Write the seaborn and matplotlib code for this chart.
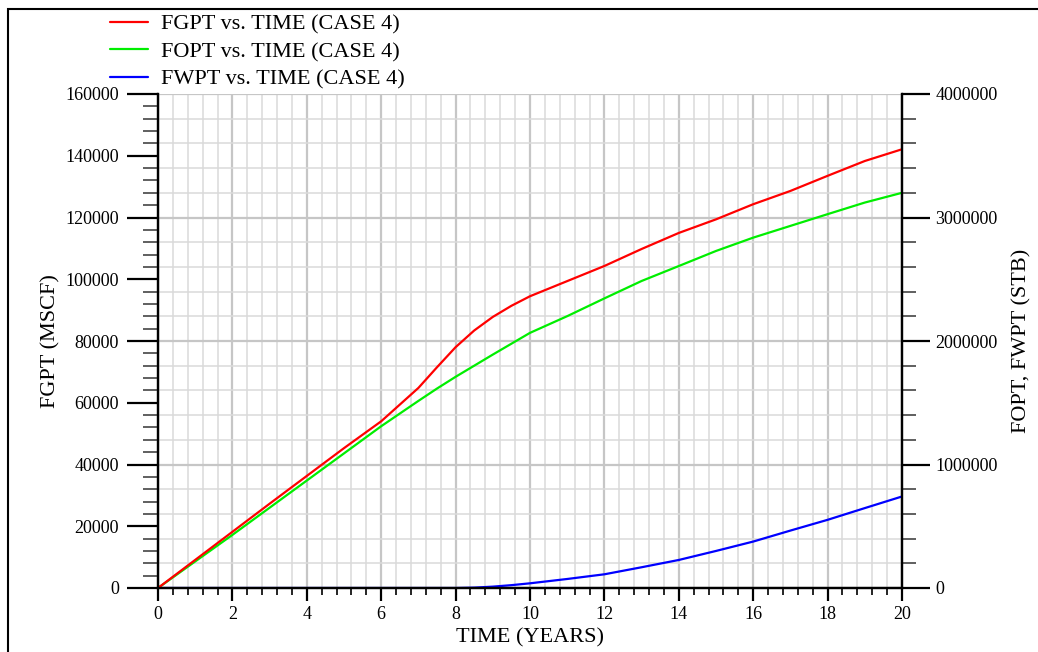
import matplotlib
matplotlib.use('Agg')
import matplotlib.pyplot as plt
import seaborn as sns
import pandas as pd
from matplotlib.ticker import MultipleLocator, StrMethodFormatter
from matplotlib.patches import Rectangle

# ---- data ----
time_years = [0, 1, 2, 3, 4, 5, 6, 7, 7.5, 8, 8.5, 9, 9.5, 10, 11, 12, 13, 14, 15, 16, 17, 18, 19, 20]
fgpt = [0, 9100, 18200, 27300, 36300, 45300, 54000, 64800, 71500, 78000, 83400, 87800, 91400, 94500,
        99400, 104300, 109800, 115000, 119400, 124300, 128600, 133500, 138300, 142100]
fopt = [0, 215000, 430000, 650000, 870000, 1090000, 1310000, 1515000, 1615000, 1710000, 1800000,
        1890000, 1978000, 2066000, 2201000, 2345000, 2486000, 2607000, 2729000, 2837000, 2932000,
        3027000, 3121000, 3200000]
fwpt = [0, 0, 0, 0, 0, 0, 0, 0, 0, 0, 3000, 11000, 23000, 38000, 73000, 111000, 168000, 227000,
        300000, 376000, 465000, 552000, 647000, 741000]
series_labels = ["FGPT vs. TIME (CASE 4)", "FOPT vs. TIME (CASE 4)", "FWPT vs. TIME (CASE 4)"]
left_ticks = [0, 20000, 40000, 60000, 80000, 100000, 120000, 140000, 160000]
right_ticks = [0, 1000000, 2000000, 3000000, 4000000]
x_ticks = [0, 2, 4, 6, 8, 10, 12, 14, 16, 18, 20]

df = pd.DataFrame({"TIME": time_years, "FGPT": fgpt, "FOPT": fopt, "FWPT": fwpt})

sns.set_theme(style="ticks")
plt.rcParams['font.family'] = ['Liberation Serif', 'DejaVu Serif']
plt.rcParams['text.color'] = 'black'
plt.rcParams['axes.labelcolor'] = 'black'
plt.rcParams['xtick.color'] = 'black'
plt.rcParams['ytick.color'] = 'black'

W, H = 1038, 652
fig = plt.figure(figsize=(W / 100, H / 100), dpi=100)
ax = fig.add_axes([158 / W, 1 - 588 / H, 744 / W, 494 / H])
ax2 = ax.twinx()

sns.lineplot(data=df, x="TIME", y="FGPT", ax=ax, color="#ff0000", lw=1.6,
             label=series_labels[0], legend=False)
sns.lineplot(data=df, x="TIME", y="FOPT", ax=ax2, color="#00ee00", lw=1.6,
             label=series_labels[1], legend=False)
sns.lineplot(data=df, x="TIME", y="FWPT", ax=ax2, color="#0000ff", lw=1.6,
             label=series_labels[2], legend=False)

# layering: grid + green/blue on ax2 underneath, red on ax on top
ax.set_zorder(ax2.get_zorder() + 1)
ax.patch.set_visible(False)

ax.set_xlim(x_ticks[0], x_ticks[-1])
ax.set_ylim(left_ticks[0], left_ticks[-1])
ax2.set_ylim(right_ticks[0], right_ticks[-1])

ax.set_xticks(x_ticks)
ax.xaxis.set_minor_locator(MultipleLocator(0.4))
ax.set_yticks(left_ticks)
ax.yaxis.set_minor_locator(MultipleLocator(4000))
ax2.set_yticks(right_ticks)
ax2.yaxis.set_minor_locator(MultipleLocator(200000))
ax.yaxis.set_major_formatter(StrMethodFormatter("{x:.0f}"))
ax2.yaxis.set_major_formatter(StrMethodFormatter("{x:.0f}"))
ax.xaxis.set_major_formatter(StrMethodFormatter("{x:.0f}"))

# grid drawn on ax2 (below all lines)
ax2.xaxis.set_visible(True)
ax2.tick_params(axis='x', which='both', bottom=False, top=False, labelbottom=False, labeltop=False)
ax2.set_xlabel("")
ax2.grid(which='major', axis='both', color='#c6c6c6', lw=1.6)
ax2.grid(which='minor', axis='both', color='#dadada', lw=1.1)
ax.grid(False)

ax.tick_params(axis='y', which='major', direction='out', length=22, width=1.6, pad=6,
               labelsize=13, left=True, right=False)
ax.tick_params(axis='y', which='minor', direction='out', length=11, width=1.2, color='#444444',
               left=True, right=False)
ax.tick_params(axis='x', which='major', direction='out', length=9, width=1.6, pad=4,
               labelsize=13, bottom=True, top=False)
ax.tick_params(axis='x', which='minor', direction='out', length=5, width=1.2, bottom=True, top=False)
ax2.tick_params(axis='y', which='major', direction='out', length=20, width=1.6, pad=4,
                labelsize=13, right=True, left=False)
ax2.tick_params(axis='y', which='minor', direction='out', length=10, width=1.2, color='#444444',
                right=True, left=False)

for a in (ax, ax2):
    a.spines['top'].set_visible(False)
    for s in ('left', 'right', 'bottom'):
        a.spines[s].set_color('black')
        a.spines[s].set_linewidth(1.6)

ax.set_xlabel("TIME (YEARS)", fontsize=16)
ax.set_ylabel("FGPT (MSCF)", fontsize=16)
ax2.set_ylabel("FOPT, FWPT (STB)", fontsize=16)
ax.xaxis.set_label_coords(0.5, -0.081)
ax.yaxis.set_label_coords(-0.131, 0.5)
ax2.yaxis.set_label_coords(1.148, 0.5)

h1, l1 = ax.get_legend_handles_labels()
h2, l2 = ax2.get_legend_handles_labels()
fig.legend(h1 + h2, l1 + l2, loc='upper left', bbox_to_anchor=(110 / W, 1 - 14 / H),
           frameon=False, fontsize=16, handlelength=1.7, handletextpad=0.6,
           labelspacing=0.32, borderpad=0, borderaxespad=0)

# outer frame of the original image
fig.add_artist(Rectangle((8 / W, -0.05), 1.2, 1.05 - 9 / H, transform=fig.transFigure,
                         fill=False, edgecolor='black', lw=1.5, clip_on=False))

fig.savefig("out.png", dpi=100)
